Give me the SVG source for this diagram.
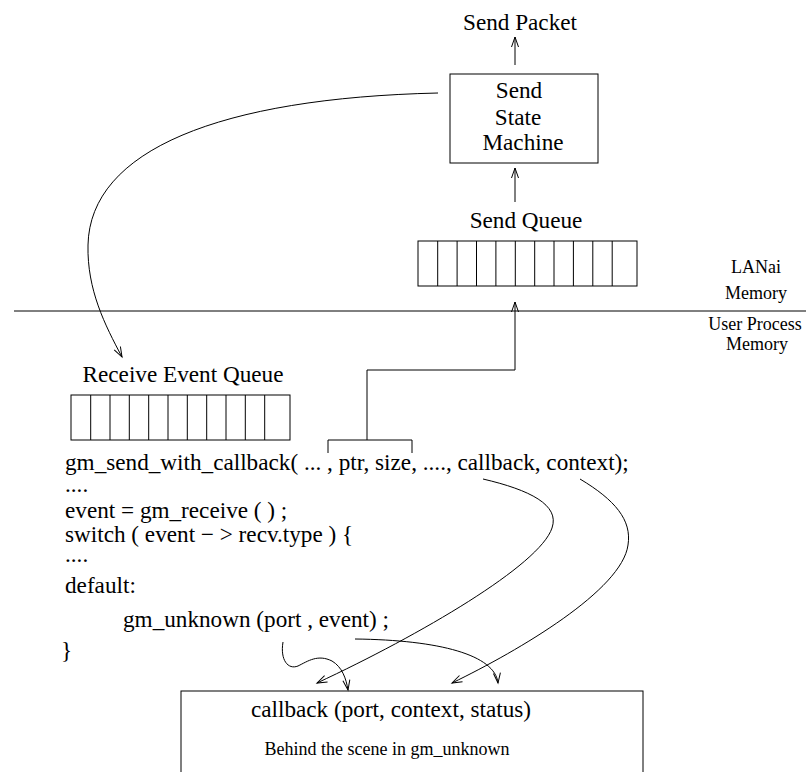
<svg xmlns="http://www.w3.org/2000/svg" width="806" height="772" viewBox="0 0 806 772">
  <style>
    text { font-family: "Liberation Serif", "DejaVu Serif", serif; fill: #000; }
    .big { font-size: 23.2px; }
    .small { font-size: 18px; }
    .mid { text-anchor: middle; }
    .ln { fill: none; stroke: #000; stroke-width: 1; }
    .box { fill: #fff; stroke: #000; stroke-width: 1; }
  </style>
  <defs>
    <marker id="head" viewBox="0 0 10 7" refX="10" refY="3.5" markerWidth="10" markerHeight="7" markerUnits="userSpaceOnUse" orient="auto" overflow="visible">
      <path d="M0,0 L10,3.5 L0,7" fill="none" stroke="#000" stroke-width="1"/>
    </marker>
  </defs>

  <rect width="806" height="772" fill="#fff"/>

  <!-- memory boundary -->
  <g id="boundary">
    <line class="ln" x1="14" y1="311" x2="806" y2="311"/>
    <text class="small mid" x="756" y="273">LANai</text>
    <text class="small mid" x="756" y="299">Memory</text>
    <text class="small mid" x="755" y="330">User Process</text>
    <text class="small mid" x="757" y="350">Memory</text>
  </g>

  <g id="send-packet">
    <text class="big mid" x="520" y="30">Send Packet</text>
  </g>

  <g id="send-state-machine">
    <rect class="box" x="450" y="74" width="148" height="89"/>
    <text class="big mid" x="519" y="98">Send</text>
    <text class="big mid" x="518" y="125">State</text>
    <text class="big mid" x="523" y="150">Machine</text>
  </g>

  <g id="send-queue">
    <text class="big mid" x="526" y="228">Send Queue</text>
    <rect class="box" x="418" y="241" width="219" height="45"/>
    <path class="ln" d="M437.7,241V286M457.1,241V286M476.5,241V286M495.9,241V286M515.3,241V286M534.7,241V286M554,241V286M573.4,241V286M592.8,241V286M612.2,241V286"/>
  </g>

  <g id="receive-event-queue">
    <text class="big mid" x="183" y="382">Receive Event Queue</text>
    <rect class="box" x="71" y="395" width="219" height="45"/>
    <path class="ln" d="M90.7,395V440M110,395V440M129.3,395V440M148.7,395V440M168,395V440M187.3,395V440M206.7,395V440M226,395V440M245.3,395V440M264.7,395V440"/>
  </g>

  <g id="code">
    <text class="big" x="65" y="470">gm_send_with_callback( ... , ptr, size, ...., callback, context);</text>
    <text class="big" x="65" y="492">....</text>
    <text class="big" x="65" y="518">event = gm_receive ( ) ;</text>
    <text class="big" x="65" y="542">switch ( event − &gt; recv.type ) {</text>
    <text class="big" x="65" y="562">....</text>
    <text class="big" x="65" y="593">default:</text>
    <text class="big" x="123" y="627">gm_unknown (port , event) ;</text>
    <text class="big" x="61" y="658">}</text>
  </g>

  <g id="callback-box">
    <rect class="box" x="181" y="691" width="462" height="100"/>
    <text class="big mid" x="391" y="717">callback (port, context, status)</text>
    <text class="small mid" x="387" y="755">Behind the scene in gm_unknown</text>
  </g>

  <g id="connectors">
    <!-- state machine to wire -->
    <line class="ln" x1="515" y1="65" x2="515" y2="37" marker-end="url(#head)"/>
    <!-- send queue to state machine -->
    <line class="ln" x1="515" y1="202" x2="515" y2="168" marker-end="url(#head)"/>
    <!-- ptr/size bracket up into the send queue -->
    <path class="ln" d="M328,453V440H412V453"/>
    <path class="ln" d="M367,440V370H515V302" marker-end="url(#head)"/>
    <!-- incoming event into the receive queue -->
    <path class="ln" d="M438,93 C220,98 90,150 88,245 C87,290 105,325 122,357" marker-end="url(#head)"/>
    <!-- callback and context handed to the callback -->
    <path class="ln" d="M483,479 C530,490 560,505 552,528 C540,565 420,635 317,683" marker-end="url(#head)"/>
    <path class="ln" d="M580,479 C615,500 632,520 628,545 C622,590 520,650 452,683" marker-end="url(#head)"/>
    <!-- gm_unknown arguments -->
    <path class="ln" d="M283,642 C280,660 288,670 298,666 C308,661 318,654 332,661 C342,667 346,678 348,690" marker-end="url(#head)"/>
    <path class="ln" d="M355,639 C440,640 495,655 498,683" marker-end="url(#head)"/>
  </g>
</svg>
